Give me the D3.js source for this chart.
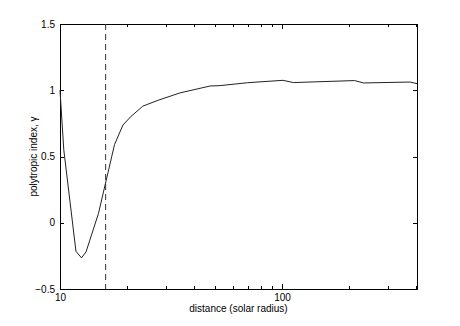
<!DOCTYPE html>
<html>
<head>
<meta charset="utf-8">
<script src="https://cdn.jsdelivr.net/npm/d3@7"></script>
<style>
  body { margin: 0; background: #fff; }
  text { font-family: "Liberation Sans", Arial, Helvetica, sans-serif; font-size: 10px; fill: #000; }
  .axis path, .axis line { stroke: #000; shape-rendering: crispEdges; }
</style>
</head>
<body>
<div id="chart"></div>
<script>
// distance (solar radius) and polytropic index
var distance = [10, 10.4, 11.8, 12.5, 13.1, 14.9, 17.6, 19.2, 20.8, 23.6, 27.7, 34.7, 47.4, 52.6, 70, 100.9, 112.4, 212, 233, 376, 405];
var gamma = [1.0, 0.55, -0.216, -0.265, -0.22, 0.07, 0.59, 0.737, 0.80, 0.88, 0.925, 0.98, 1.032, 1.035, 1.057, 1.075, 1.058, 1.073, 1.055, 1.062, 1.05];

var xMajor = [10, 100];
var xMinor = [20, 30, 40, 50, 60, 70, 80, 90, 200, 300, 400];
var yTicks = [-0.5, 0, 0.5, 1, 1.5];
var markerDistance = 16.05;

var svgWidth = 460;
var svgHeight = 326;

var margin = {
    top: 24,
    right: 43,
    bottom: 37,
    left: 60
};

var width = svgWidth - margin.left - margin.right;
var height = svgHeight - margin.top - margin.bottom;

var svg = d3.select("#chart")
    .append("svg")
    .attr("width", svgWidth)
    .attr("height", svgHeight);

var chartGroup = svg.append("g")
    .attr("transform", `translate(${margin.left}, ${margin.top})`);

var xScale = d3.scaleLog()
    .domain([10, 405])
    .range([0, width]);

var yScale = d3.scaleLinear()
    .domain([-0.5, 1.5])
    .range([height, 0]);

var fmtY = function(d) {
    return d < 0 ? "\u2212" + Math.abs(d) : String(d);
};

// bottom axis with labels
chartGroup.append("g")
    .attr("class", "axis")
    .attr("transform", `translate(0, ${height})`)
    .call(d3.axisBottom(xScale).tickValues(xMajor).tickSize(-5).tickSizeOuter(0).tickPadding(5).tickFormat(d3.format("d")))
    .call(g => g.selectAll("text").attr("font-size", null));

chartGroup.append("g")
    .attr("class", "axis")
    .attr("transform", `translate(0, ${height})`)
    .call(d3.axisBottom(xScale).tickValues(xMinor).tickSize(-3).tickSizeOuter(0).tickFormat(""));

// top axis
chartGroup.append("g")
    .attr("class", "axis")
    .call(d3.axisTop(xScale).tickValues(xMajor).tickSize(-5).tickSizeOuter(0).tickFormat(""));

chartGroup.append("g")
    .attr("class", "axis")
    .call(d3.axisTop(xScale).tickValues(xMinor).tickSize(-3).tickSizeOuter(0).tickFormat(""));

// left and right axes
chartGroup.append("g")
    .attr("class", "axis")
    .call(d3.axisLeft(yScale).tickValues(yTicks).tickSize(-4).tickSizeOuter(0).tickPadding(5).tickFormat(fmtY))
    .call(g => g.selectAll("text").attr("font-size", null));

chartGroup.append("g")
    .attr("class", "axis")
    .attr("transform", `translate(${width}, 0)`)
    .call(d3.axisRight(yScale).tickValues(yTicks).tickSize(-4).tickSizeOuter(0).tickFormat(""));

svg.selectAll(".axis").attr("font-family", null);

// dashed marker line
chartGroup.append("line")
    .attr("x1", xScale(markerDistance))
    .attr("x2", xScale(markerDistance))
    .attr("y1", 0)
    .attr("y2", height)
    .attr("stroke", "#333")
    .attr("stroke-width", 1)
    .attr("stroke-dasharray", "6,4");

// the curve
var line = d3.line()
    .x((d, i) => xScale(distance[i]))
    .y((d, i) => yScale(gamma[i]));

chartGroup.append("path")
    .datum(gamma)
    .attr("d", line)
    .attr("fill", "none")
    .attr("stroke", "#222")
    .attr("stroke-width", 1);

// axis labels
svg.append("text")
    .attr("x", margin.left + width / 2)
    .attr("y", 312)
    .attr("text-anchor", "middle")
    .text("distance (solar radius)");

svg.append("text")
    .attr("transform", `translate(37, ${margin.top + height / 2}) rotate(-90)`)
    .attr("text-anchor", "middle")
    .text("polytropic index, \u03b3");
</script>
</body>
</html>
